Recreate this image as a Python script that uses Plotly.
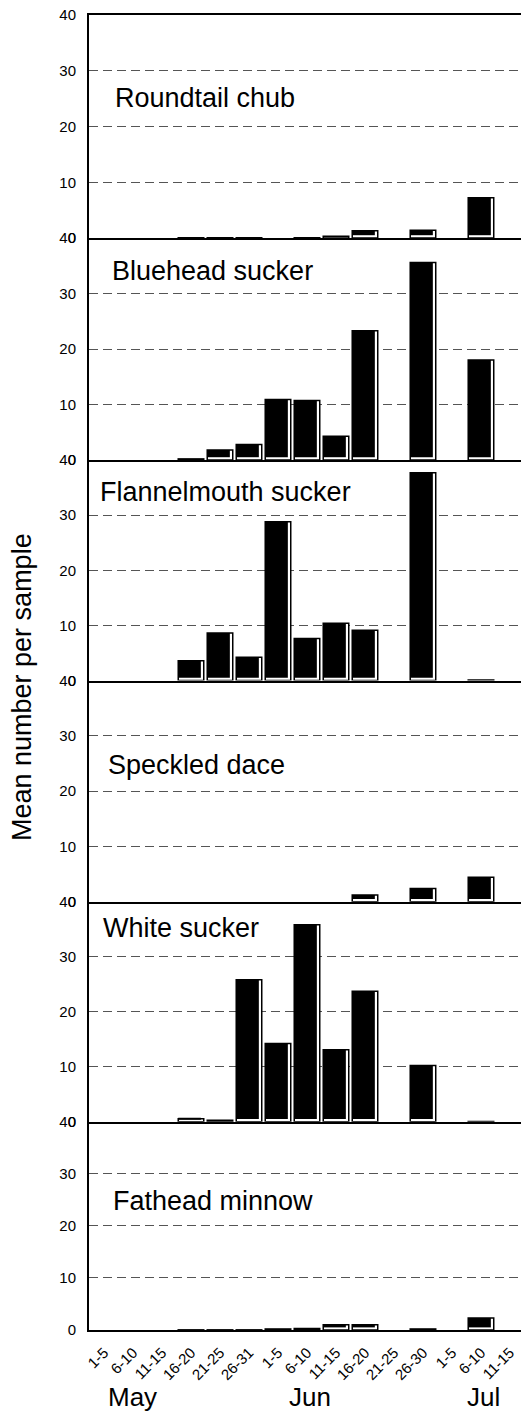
import plotly.graph_objects as go
from plotly.subplots import make_subplots

# Five-day sampling periods, May through mid-July
periods = ["1-5", "6-10", "11-15", "16-20", "21-25", "26-31",
           "1-5", "6-10", "11-15", "16-20", "21-25", "26-30",
           "1-5", "6-10", "11-15"]
months = ["May", "Jun", "Jul"]
month_pos = [0.97, 7.1, 13.1]

species = ["Roundtail chub", "Bluehead sucker", "Flannelmouth sucker",
           "Speckled dace", "White sucker", "Fathead minnow"]

# Mean number per sample (None = no catch / not sampled)
roundtail_chub = [None, None, None, 0.05, 0.05, 0.05, None, 0.05, 0.3, 1.3, None, 1.4, None, 7.2, None]
bluehead_sucker = [None, None, None, 0.2, 1.8, 2.8, 10.9, 10.7, 4.3, 23.3, None, 35.6, None, 18.0, None]
flannelmouth_sucker = [None, None, None, 3.6, 8.6, 4.2, 28.8, 7.6, 10.4, 9.1, None, 37.7, None, 0.1, None]
speckled_dace = [None, None, None, None, None, None, None, None, None, 1.2, None, 2.4, None, 4.4, None]
white_sucker = [None, None, None, 0.55, 0.25, 25.8, 14.2, 35.8, 13.1, 23.7, None, 10.2, None, 0.03, None]
fathead_minnow = [None, None, None, 0.03, 0.03, 0.03, 0.2, 0.3, 1.0, 1.0, None, 0.2, None, 2.3, None]

series = [roundtail_chub, bluehead_sucker, flannelmouth_sucker,
          speckled_dace, white_sucker, fathead_minnow]

W, H = 521, 1412
ML, MR, MT, MB = 89, 0, 15, 82
PW, PH = W - ML - MR, H - MT - MB
FONT = "Liberation Sans, Arial, sans-serif"


def px_x(px):
    return (px - ML) / PW


def px_y(py):
    return (H - MB - py) / PH


row_heights = [223, 222, 220.5, 221.2, 220, 208.3]
fig = make_subplots(rows=6, cols=1, shared_xaxes=True,
                    vertical_spacing=0, row_heights=row_heights)

BAR_W = 0.88
STRIPE_X = 0.1
STRIPE_Y = 0.5
xs = list(range(len(periods)))

for r, vals in enumerate(series, start=1):
    # outer bar: white body with black outline
    fig.add_trace(go.Bar(
        x=xs, y=vals, width=BAR_W, offset=-BAR_W / 2,
        marker=dict(color="white", line=dict(color="black", width=1.5)),
        showlegend=False, hoverinfo="skip"), row=r, col=1)
    # inner black fill, leaving a white edge on the right and bottom
    inner = [None if (v is None or v <= STRIPE_Y) else v - STRIPE_Y for v in vals]
    fig.add_trace(go.Bar(
        x=xs, y=inner, base=STRIPE_Y, width=BAR_W - STRIPE_X, offset=-BAR_W / 2,
        marker=dict(color="black", line=dict(width=0)),
        showlegend=False, hoverinfo="skip"), row=r, col=1)

fig.update_layout(
    width=W, height=H, barmode="overlay",
    margin=dict(l=ML, r=MR, t=MT, b=MB, pad=0),
    paper_bgcolor="white", plot_bgcolor="white",
    font=dict(family=FONT, color="black"),
)

fig.update_xaxes(
    range=[-0.517, 14.38], tickmode="array", tickvals=xs, ticktext=periods,
    tickangle=-45, tickfont=dict(size=15, color="black"),
    showgrid=False, zeroline=False, showline=True, linecolor="black",
    linewidth=2, mirror=False, ticks="", ticklabelstandoff=6,
)
# closing line along the top of the uppermost panel
fig.update_xaxes(mirror=True, row=1, col=1)
fig.update_yaxes(
    range=[0, 40], tickmode="array", tickvals=[0, 10, 20, 30, 40],
    tickfont=dict(size=15, color="black"),
    showgrid=True, gridcolor="#555", gridwidth=1, griddash="9px,5px",
    zeroline=False, showline=True, linecolor="black", linewidth=2,
    ticks="", ticklabelstandoff=8,
)

annotations = []
# species names inside each panel
label_pos = [(113, 98.5), (110, 271), (97.7, 492), (106, 765), (101, 928), (110.7, 1201)]
for name, (lx, ly) in zip(species, label_pos):
    annotations.append(dict(
        text=name, xref="paper", yref="paper", x=px_x(lx), y=px_y(ly),
        xanchor="left", yanchor="middle", showarrow=False,
        font=dict(size=27, family=FONT, color="black")))

# month labels beneath the period ticks
for m, pos in zip(months, month_pos):
    annotations.append(dict(
        text=m, xref="x6", yref="paper", x=pos, y=px_y(1397),
        xanchor="center", yanchor="middle", showarrow=False,
        font=dict(size=26, family=FONT, color="black")))

# y-axis title
annotations.append(dict(
    text="Mean number per sample", xref="paper", yref="paper",
    x=px_x(22), y=px_y(687), xanchor="center", yanchor="middle",
    textangle=-90, showarrow=False,
    font=dict(size=27, family=FONT, color="black")))

fig.update_layout(annotations=annotations)

fig.write_html("out.html")
